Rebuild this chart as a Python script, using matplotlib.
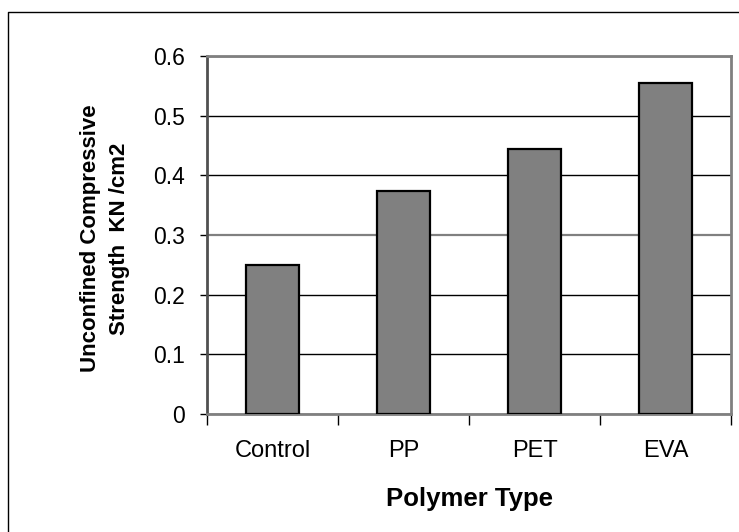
import matplotlib.pyplot as plt
import numpy as np
from matplotlib.lines import Line2D

plt.rcParams['font.family'] = ['Liberation Sans', 'DejaVu Sans']

categories = ['Control', 'PP', 'PET', 'EVA']
strength = [0.249, 0.374, 0.444, 0.554]
yticks = [0, 0.1, 0.2, 0.3, 0.4, 0.5, 0.6]

fig = plt.figure(figsize=(7.39, 5.32), dpi=100)
W, H = 739, 532
ax = fig.add_axes([207 / W, 1 - 414 / H, (731 - 207) / W, (414 - 56) / H])

x = np.arange(len(categories))
ax.bar(x, strength, width=0.4, color='#808080', edgecolor='black', linewidth=1.6, zorder=3)

ax.set_xlim(-0.5, 3.5)
ax.set_ylim(0, 0.6)
ax.set_yticks(yticks)
ax.set_yticklabels(['0', '0.1', '0.2', '0.3', '0.4', '0.5', '0.6'])
ax.yaxis.grid(True, color='black', linewidth=1)
ax.get_ygridlines()[3].set_color('#808080')
ax.get_ygridlines()[3].set_linewidth(1.6)
ax.set_axisbelow(True)

ax.set_xticks(np.arange(-0.5, 4.0, 1.0))
ax.set_xticklabels([])
ax.set_xticks(x, minor=True)
ax.set_xticklabels(categories, minor=True)
ax.tick_params(axis='x', which='major', length=8, width=1, direction='out', color='black')
ax.tick_params(axis='x', which='minor', length=0, labelsize=17, pad=19)
ax.tick_params(axis='y', length=5, width=1, direction='out', labelsize=16.5, pad=11)

for side in ['top', 'right', 'bottom']:
    ax.spines[side].set_color('#808080')
    ax.spines[side].set_linewidth(2)
ax.spines['left'].set_color('#505050')
ax.spines['left'].set_linewidth(2)

ax.set_xlabel('Polymer Type', fontsize=18.5, fontweight='bold')
ax.xaxis.set_label_coords(0.5, -0.205)
ax.set_ylabel('Unconfined Compressive\nStrength  KN /cm2', fontsize=16, fontweight='bold',
              linespacing=1.5)
ax.yaxis.set_label_coords(-0.147, 0.49)

# chart border (only top and left edges are visible)
fig.add_artist(Line2D([8 / W, 8 / W, 1], [0, 1 - 12 / H, 1 - 12 / H],
                      transform=fig.transFigure, color='black', linewidth=1))

fig.savefig('out.png', dpi=100)
